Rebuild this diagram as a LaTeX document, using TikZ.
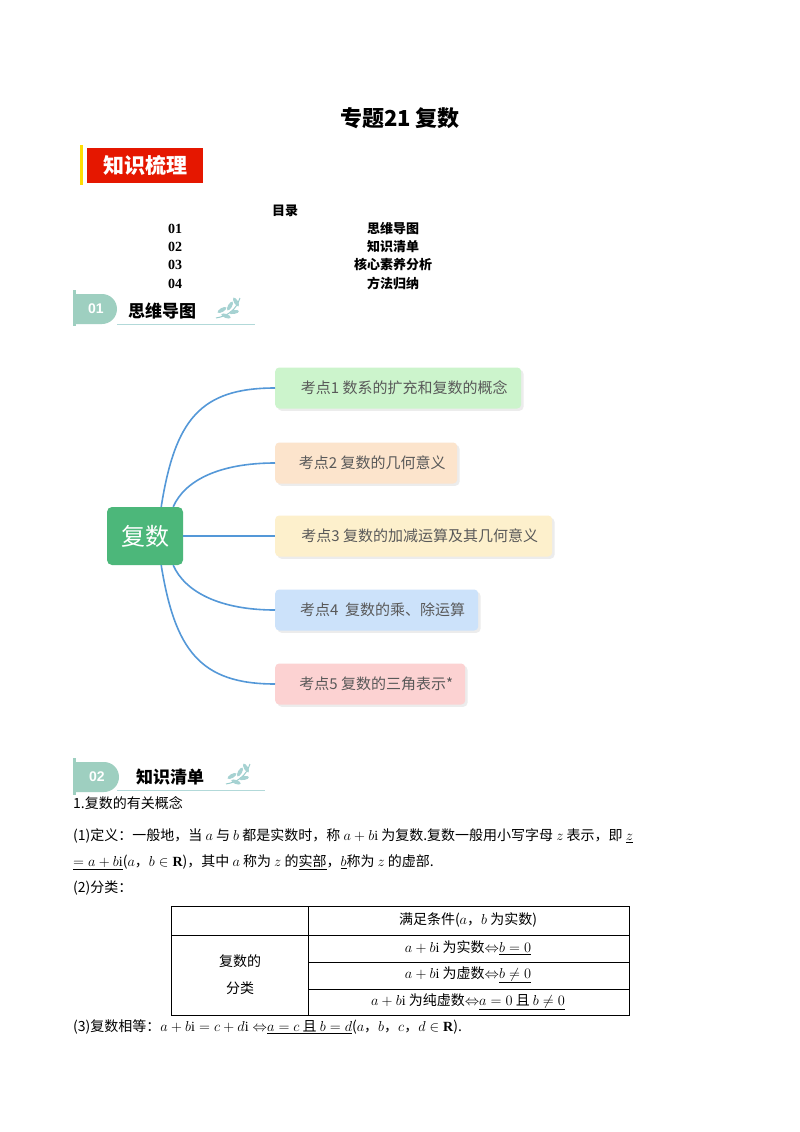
\documentclass[tikz,border=0pt]{standalone}
\usepackage{fontspec}
\usetikzlibrary{shadows}
\setmainfont{Liberation Serif}
\newfontfamily\cjk{Noto Sans CJK SC}
\newfontfamily\lsans{Liberation Sans}
\newcommand\cjkb{\cjk\bfseries}
\definecolor{cgreen}{RGB}{76,183,122}
\definecolor{kblue}{RGB}{204,226,250}
\definecolor{kyel}{RGB}{253,240,204}
\definecolor{kor}{RGB}{252,228,204}
\definecolor{kgr}{RGB}{204,244,204}
\definecolor{kpk}{RGB}{252,210,210}
\definecolor{bad}{RGB}{158,207,192}
\begin{document}
\begin{tikzpicture}[x=1pt,y=-1pt,
  txt/.style={inner sep=0pt,anchor=west,font=\cjk\fontsize{14}{16}\selectfont},
  kbox/.style={rounded corners=4pt,minimum height=41pt,anchor=west,inner sep=0pt,text=black!65,font=\cjk\fontsize{15}{17}\selectfont,drop shadow={opacity=0.15}},
  br/.style={draw=cyan!60!blue!70,line width=1.6pt},
  badge/.style={fill=bad},
  leaf/.style={fill=teal!35!white,draw=none}]
\useasboundingbox (0,0) rectangle (800,1132);
\fill[white] (0,0) rectangle (800,1132);
\node[inner sep=0pt,font=\cjkb\fontsize{22}{25}\selectfont] (title) at (400,118) {专题21\ 复数};
% banner
\fill[yellow!80!orange] (80,145) rectangle (83,185);
\node[fill=red!80!orange!90!black,minimum width=116pt,minimum height=35pt,text=white,font=\cjkb\fontsize{21}{24}\selectfont,inner sep=0pt] (ban) at (145,165) {知识梳理};
% toc
\node[inner sep=0pt,font=\cjkb\fontsize{13}{15}\selectfont] (toc) at (285,211) {目录};
\foreach \n/\t/\y in {01/思维导图/229,02/知识清单/247,03/核心素养分析/265,04/方法归纳/284}{
  \node[inner sep=0pt,font=\bfseries\fontsize{14}{16}\selectfont] at (175,\y) {\n};
  \node[inner sep=0pt,font=\cjkb\fontsize{13}{15}\selectfont] at (393,\y) {\t};}
% badge 01
\fill[badge] (73,294) -- (102,294) arc (-90:90:15) -- (73,324) -- cycle;
\fill[badge] (73,290) rectangle (76,326);
\node[text=white,font=\lsans\bfseries\fontsize{14}{16}\selectfont] (b1) at (96,309) {01};
\node[inner sep=0pt,font=\cjkb\fontsize{17}{19}\selectfont] (s1) at (162,311) {思维导图};
\draw[teal!30,line width=1pt] (117,324) -- (255,324);
\begin{scope}[shift={(228,310)}]
\draw[teal!40,line width=1pt] (-12,8) .. controls (0,6) and (8,0) .. (12,-12);
\foreach \a/\p in {30/{(-6,0)},60/{(2,-4)},120/{(8,-8)},-20/{(-2,6)},10/{(6,2)}}
  \fill[leaf,rotate around={\a:\p}] \p ellipse (5 and 2);
\end{scope}
% badge 02
\fill[badge] (73,762) -- (104,762) arc (-90:90:15) -- (73,792) -- cycle;
\fill[badge] (73,758) rectangle (76,795);
\node[text=white,font=\lsans\bfseries\fontsize{14}{16}\selectfont] (b2) at (97,777) {02};
\node[inner sep=0pt,font=\cjkb\fontsize{17}{19}\selectfont] (s2) at (170,777) {知识清单};
\draw[teal!30,line width=1pt] (117,790) -- (265,790);
\begin{scope}[shift={(238,776)}]
\draw[teal!40,line width=1pt] (-12,8) .. controls (0,6) and (8,0) .. (12,-12);
\foreach \a/\p in {30/{(-6,0)},60/{(2,-4)},120/{(8,-8)},-20/{(-2,6)},10/{(6,2)}}
  \fill[leaf,rotate around={\a:\p}] \p ellipse (5 and 2);
\end{scope}
% mind map
\node[fill=cgreen,rounded corners=5pt,minimum width=76pt,minimum height=58pt,text=white,font=\cjk\fontsize{24}{26}\selectfont] (c) at (145,536) {复数};
\node[kbox,fill=kgr,minimum width=246pt] (k1) at (275,388) {\hspace{12pt}考点1 数系的扩充和复数的概念\hfill};
\node[kbox,fill=kor,minimum width=182pt] (k2) at (275,463) {\hspace{12pt}考点2 复数的几何意义\hfill};
\node[kbox,fill=kyel,minimum width=277pt] (k3) at (275,536) {\hspace{12pt}考点3 复数的加减运算及其几何意义\hfill};
\node[kbox,fill=kblue,minimum width=203pt] (k4) at (275,610) {\hspace{12pt}考点4\ \ 复数的乘、除运算\hfill};
\node[kbox,fill=kpk,minimum width=190pt] (k5) at (275,684) {\hspace{12pt}考点5 复数的三角表示*\hfill};
\draw[br] (c.north east) ++(-22,0) .. controls (175,420) and (200,388) .. (k1.west);
\draw[br] (c.north east) ++(-10,0) .. controls (185,480) and (220,463) .. (k2.west);
\draw[br] (c.east) -- (k3.west);
\draw[br] (c.south east) ++(-10,0) .. controls (185,592) and (220,610) .. (k4.west);
\draw[br] (c.south east) ++(-22,0) .. controls (175,650) and (200,684) .. (k5.west);
% text
\node[txt] (l1) at (73,803) {1.复数的有关概念};
\node[txt] (l2) at (73,836) {(1)定义：一般地，当 $a$ 与 $b$ 都是实数时，称 $a+b\mathrm{i}$ 为复数.复数一般用小写字母 $z$ 表示，即 \underline{$z$}};
\node[txt] (l3) at (73,862) {\underline{$=a+b\mathrm{i}$}($a$，$b\in\mathbf{R}$)，其中 $a$ 称为 $z$ 的\underline{实部}，\underline{$b$}称为 $z$ 的虚部.};
\node[txt] (l4) at (73,888) {(2)分类：};
\draw[line width=0.8pt] (171,906) rectangle (629,1015);
\draw (308,906) -- (308,1015) (171,935) -- (629,935) (308,962) -- (629,962) (308,989) -- (629,989);
\node[txt,anchor=center] (h) at (468,920) {满足条件($a$，$b$ 为实数)};
\node[txt,anchor=center,align=center,font=\cjk\fontsize{14}{27}\selectfont] (fl) at (240,975) {复数的\\分类};
\node[txt,anchor=center] (r1) at (468,948) {$a+b\mathrm{i}$ 为实数$\Leftrightarrow$\underline{$b=0$}};
\node[txt,anchor=center] (r2) at (468,975) {$a+b\mathrm{i}$ 为虚数$\Leftrightarrow$\underline{$b\neq0$}};
\node[txt,anchor=center] (r3) at (468,1002) {$a+b\mathrm{i}$ 为纯虚数$\Leftrightarrow$\underline{$a=0$ 且 $b\neq0$}};
\node[txt] (l5) at (73,1027) {(3)复数相等：$a+b\mathrm{i}=c+d\mathrm{i}\Leftrightarrow$\underline{$a=c$ 且 $b=d$}($a$，$b$，$c$，$d\in\mathbf{R}$).};
\end{tikzpicture}
\end{document}
